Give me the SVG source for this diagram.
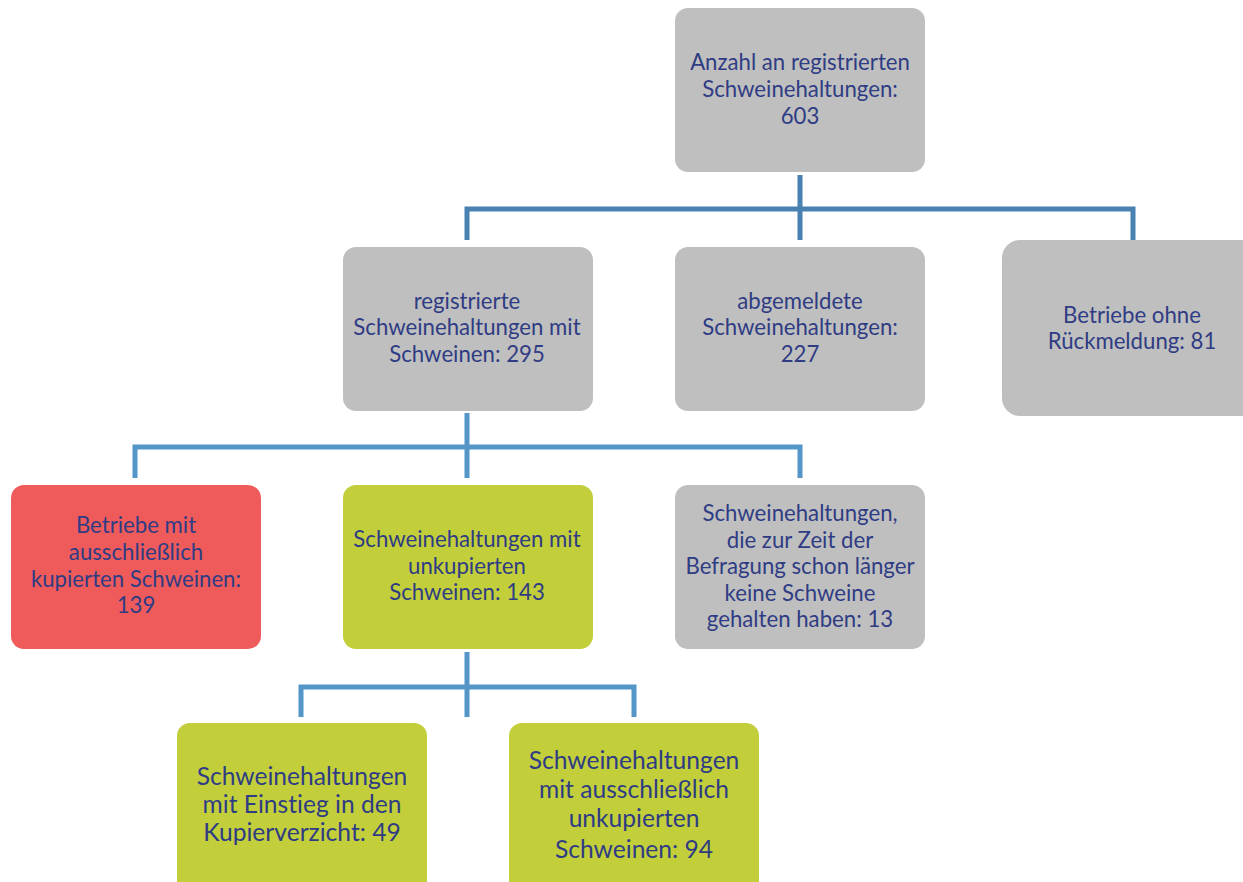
<svg xmlns="http://www.w3.org/2000/svg" width="1243" height="882" viewBox="0 0 1243 882">
<style>
.gray{fill:#bfbfbf}
.red{fill:#ef5b5b}
.green{fill:#c2cf3a}
text{font-family:Lato,"Open Sans","Liberation Sans",sans-serif;fill:#2f3c84;text-anchor:middle;font-size:22.2px;font-variant-ligatures:none}
text.big{font-size:24.6px}
.c1{fill:none;stroke:#4a81b3;stroke-width:5}
.c2{fill:none;stroke:#5596c9;stroke-width:5}
</style>
<rect width="1243" height="882" fill="#ffffff"/>
<g id="connectors">
<path class="c1" d="M800 175V240M467 240V209H1133V240"/>
<path class="c2" d="M467 413V478M135 478V447H800V478"/>
<path class="c2" d="M467 652V717M301 717V687H634V717"/>
</g>
<g id="n1"><rect class="gray" x="675" y="8" width="250" height="164" rx="13"/>
<text x="800" y="70">Anzahl an registrierten</text><text x="800" y="97">Schweinehaltungen:</text><text x="800" y="124">603</text></g>
<g id="n2"><rect class="gray" x="343" y="247" width="250" height="164" rx="13"/>
<text x="467" y="309">registrierte</text><text x="467" y="335">Schweinehaltungen mit</text><text x="467" y="362">Schweinen: 295</text></g>
<g id="n3"><rect class="gray" x="675" y="247" width="250" height="164" rx="13"/>
<text x="800" y="309">abgemeldete</text><text x="800" y="335">Schweinehaltungen:</text><text x="800" y="362">227</text></g>
<g id="n4"><rect class="gray" x="1002" y="240" width="262" height="176" rx="18"/>
<text x="1132" y="323">Betriebe ohne</text><text x="1132" y="349">Rückmeldung: 81</text></g>
<g id="n5"><rect class="red" x="11" y="485" width="250" height="164" rx="13"/>
<text x="136" y="533">Betriebe mit</text><text x="136" y="560">ausschließlich</text><text x="136" y="587">kupierten Schweinen:</text><text x="136" y="613">139</text></g>
<g id="n6"><rect class="green" x="343" y="485" width="250" height="164" rx="13"/>
<text x="467" y="547">Schweinehaltungen mit</text><text x="467" y="574">unkupierten</text><text x="467" y="600">Schweinen: 143</text></g>
<g id="n7"><rect class="gray" x="675" y="485" width="250" height="164" rx="13"/>
<text x="800" y="521">Schweinehaltungen,</text><text x="800" y="548">die zur Zeit der</text><text x="800" y="574">Befragung schon länger</text><text x="800" y="601">keine Schweine</text><text x="800" y="627">gehalten haben: 13</text></g>
<g id="n8"><rect class="green" x="177" y="723" width="250" height="175" rx="13"/>
<text class="big" x="302" y="785">Schweinehaltungen</text><text class="big" x="302" y="813">mit Einstieg in den</text><text class="big" x="302" y="841">Kupierverzicht: 49</text></g>
<g id="n9"><rect class="green" x="509" y="723" width="250" height="175" rx="13"/>
<text class="big" x="634" y="769">Schweinehaltungen</text><text class="big" x="634" y="798">mit ausschließlich</text><text class="big" x="634" y="827">unkupierten</text><text class="big" x="634" y="858">Schweinen: 94</text></g>
</svg>
